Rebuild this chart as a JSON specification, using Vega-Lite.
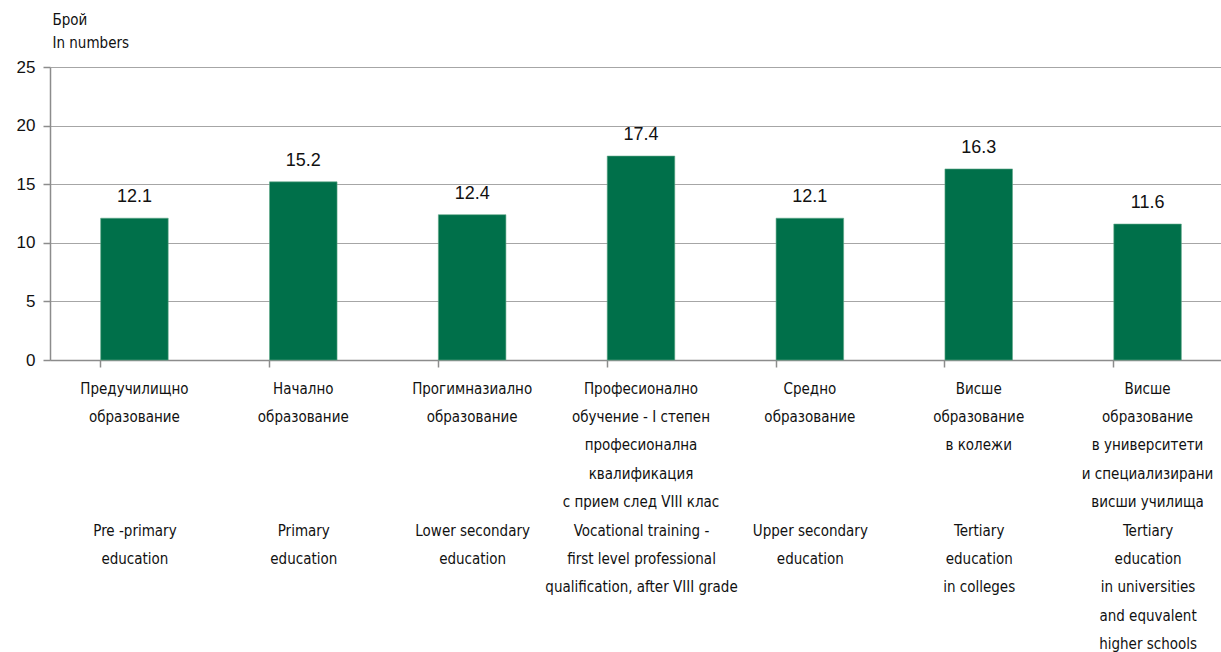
{
  "$schema": "https://vega.github.io/schema/vega-lite/v6.json",
  "width": 1182,
  "height": 293,
  "autosize": {"type": "none"},
  "padding": {"left": 50, "top": 67, "right": 0, "bottom": 292},
  "background": "white",
  "config": {"view": {"stroke": null}},
  "data": {
    "values": [
      {"bg": "Предучилищно|образование", "en": "Pre -primary|education", "value": 12.1},
      {"bg": "Начално|образование", "en": "Primary|education", "value": 15.2},
      {"bg": "Прогимназиално|образование", "en": "Lower secondary|education", "value": 12.4},
      {"bg": "Професионално|обучение  - I  степен|професионална|квалификация|с прием след  VIII клас", "en": "Vocational training  -|first level professional|qualification, after VIII grade", "value": 17.4},
      {"bg": "Средно|образование", "en": "Upper secondary|education", "value": 12.1},
      {"bg": "Висше|образование|в колежи", "en": "Tertiary|education|in colleges", "value": 16.3},
      {"bg": "Висше|образование|в университети|и специализирани|висши училища", "en": "Tertiary|education|in universities|and equvalent|higher schools", "value": 11.6}
    ]
  },
  "encoding": {
    "y": {
      "field": "value",
      "type": "quantitative",
      "scale": {"domain": [0, 25], "nice": false},
      "axis": {
        "values": [0, 5, 10, 15, 20, 25],
        "title": ["Брой", "In numbers"],
        "titleAngle": 0,
        "titleAlign": "left",
        "titleBaseline": "top",
        "titleX": 2,
        "titleY": -55,
        "titleFont": "DejaVu Sans Condensed",
        "titleFontSize": 15,
        "titleFontWeight": "normal",
        "titleLineHeight": 23.5,
        "titleColor": "#111111",
        "labelFont": "Liberation Sans",
        "labelFontSize": 17,
        "labelColor": "#111111",
        "labelPadding": 8,
        "tickSize": 7,
        "tickColor": "#8c8c8c",
        "tickWidth": 1.5,
        "domainColor": "#8c8c8c",
        "domainWidth": 1.5,
        "gridColor": "#a6a6a6",
        "gridWidth": 1
      }
    }
  },
  "layer": [
    {
      "mark": {"type": "bar", "color": "#00704a", "stroke": "#5fa888", "strokeWidth": 0.6},
      "encoding": {
        "x": {
          "field": "bg",
          "type": "nominal",
          "sort": null,
          "scale": {"paddingInner": 0.6, "paddingOuter": 0.3},
          "axis": {
            "orient": "bottom",
            "title": null,
            "labelAngle": 0,
            "labelExpr": "split(datum.label, '|')",
            "labelFont": "DejaVu Sans Condensed",
            "labelFontSize": 15,
            "labelLineHeight": 28.4,
            "labelColor": "#111111",
            "labelBaseline": "top",
            "labelPadding": 14,
            "labelLimit": 0,
            "labelOverlap": false,
            "labelBound": false,
            "bandPosition": 0,
            "tickSize": 7,
            "tickColor": "#8c8c8c",
            "tickWidth": 1.5,
            "domainColor": "#8c8c8c",
            "domainWidth": 1.5,
            "grid": false
          }
        }
      }
    },
    {
      "mark": {"type": "text", "dy": -16, "baseline": "alphabetic", "font": "Liberation Sans", "fontSize": 18, "color": "#111111"},
      "encoding": {
        "x": {
          "field": "en",
          "type": "nominal",
          "sort": null,
          "scale": {"paddingInner": 0.6, "paddingOuter": 0.3},
          "axis": {
            "orient": "bottom",
            "title": null,
            "offset": 142,
            "domain": false,
            "ticks": false,
            "labelAngle": 0,
            "labelExpr": "split(datum.label, '|')",
            "labelFont": "DejaVu Sans Condensed",
            "labelFontSize": 15,
            "labelLineHeight": 28.4,
            "labelColor": "#111111",
            "labelBaseline": "top",
            "labelPadding": 21,
            "labelLimit": 0,
            "labelOverlap": false,
            "labelBound": false,
            "grid": false
          }
        },
        "text": {"field": "value", "type": "quantitative", "format": ".1f"}
      }
    }
  ],
  "resolve": {"scale": {"x": "independent"}, "axis": {"x": "independent"}}
}
